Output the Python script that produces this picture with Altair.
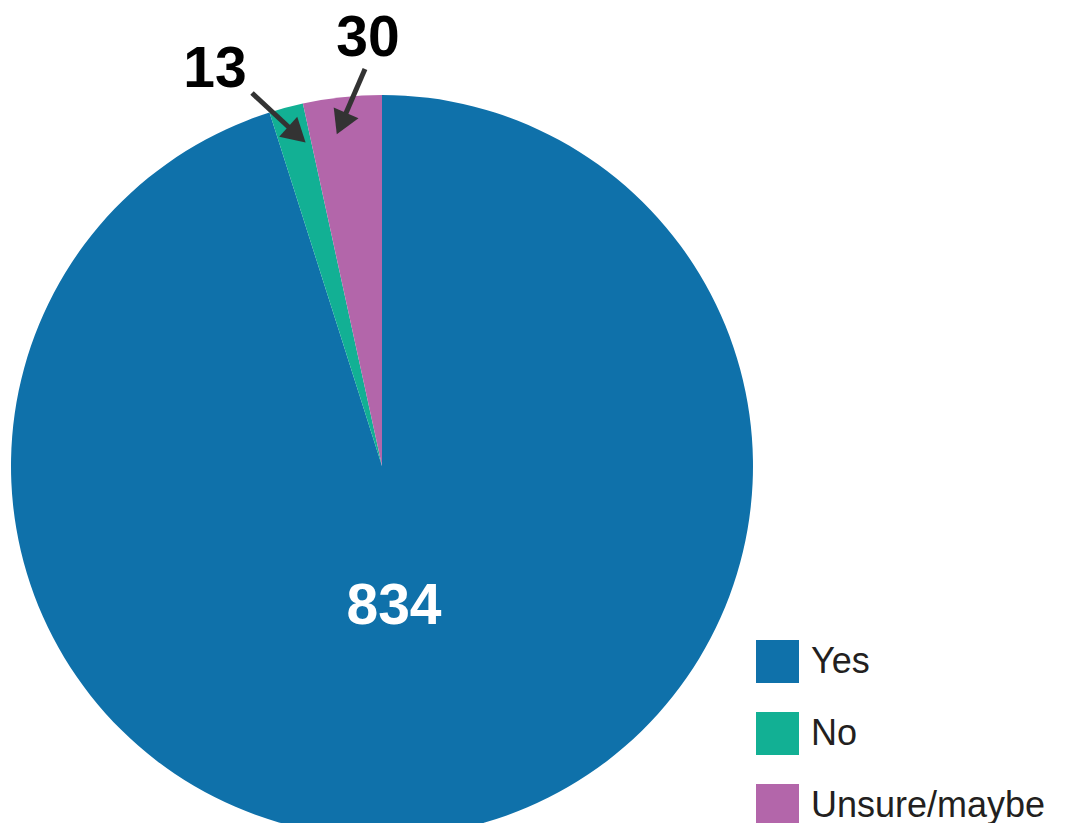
import altair as alt
import pandas as pd

categories = ["Yes", "No", "Unsure/maybe"]
counts = [834, 13, 30]
colors = ["#0f71aa", "#12b094", "#b366aa"]

df = pd.DataFrame({"cat": categories, "count": counts, "idx": [0, 1, 2]})

FONT = "Liberation Sans"

pie = alt.Chart(df).mark_arc(strokeWidth=0).encode(
    theta=alt.Theta("count:Q", stack=True),
    order=alt.Order("idx:O"),
    color=alt.Color(
        "cat:N",
        scale=alt.Scale(domain=categories, range=colors),
        legend=alt.Legend(
            title=None,
            orient="none",
            legendX=748,
            legendY=632,
            symbolType="square",
            symbolSize=1849,
            symbolStrokeWidth=0,
            symbolOpacity=1,
            labelFont=FONT,
            labelFontSize=36,
            labelColor="#231f20",
            labelOffset=12,
            labelLimit=0,
            rowPadding=29,
            padding=0,
        ),
    ),
    x=alt.value(374),
    y=alt.value(458),
    radius=alt.value(371),
)

def label(text, x, y, color):
    return alt.Chart(pd.DataFrame({"t": [text]})).mark_text(
        font=FONT, fontSize=57, fontWeight="bold", color=color,
        align="center", baseline="alphabetic",
    ).encode(text="t:N", x=alt.value(x), y=alt.value(y))

lab_yes = label(str(counts[0]), 386, 616, "white")
lab_no = label(str(counts[1]), 207, 79, "black")
lab_unsure = label(str(counts[2]), 360, 48, "black")

one = pd.DataFrame({"a": [0]})
ARROW = "#333333"

shaft1 = alt.Chart(one).mark_rule(color=ARROW, strokeWidth=5).encode(
    x=alt.value(244), y=alt.value(85), x2=alt.value(286), y2=alt.value(124)
)
head1 = alt.Chart(one).mark_point(
    shape="triangle", filled=True, color=ARROW, opacity=1, size=730, angle=132
).encode(x=alt.value(286), y=alt.value(124))

shaft2 = alt.Chart(one).mark_rule(color=ARROW, strokeWidth=5).encode(
    x=alt.value(357), y=alt.value(61), x2=alt.value(335), y2=alt.value(112)
)
head2 = alt.Chart(one).mark_point(
    shape="triangle", filled=True, color=ARROW, opacity=1, size=730, angle=203.5
).encode(x=alt.value(335), y=alt.value(112))

chart = alt.layer(
    pie, lab_yes, lab_no, lab_unsure, shaft1, head1, shaft2, head2
).properties(
    width=1052, height=815, padding=0, autosize="none", background="white"
).configure_view(stroke=None)

chart.save("out.html", embed_options={"renderer": "svg", "actions": False})
